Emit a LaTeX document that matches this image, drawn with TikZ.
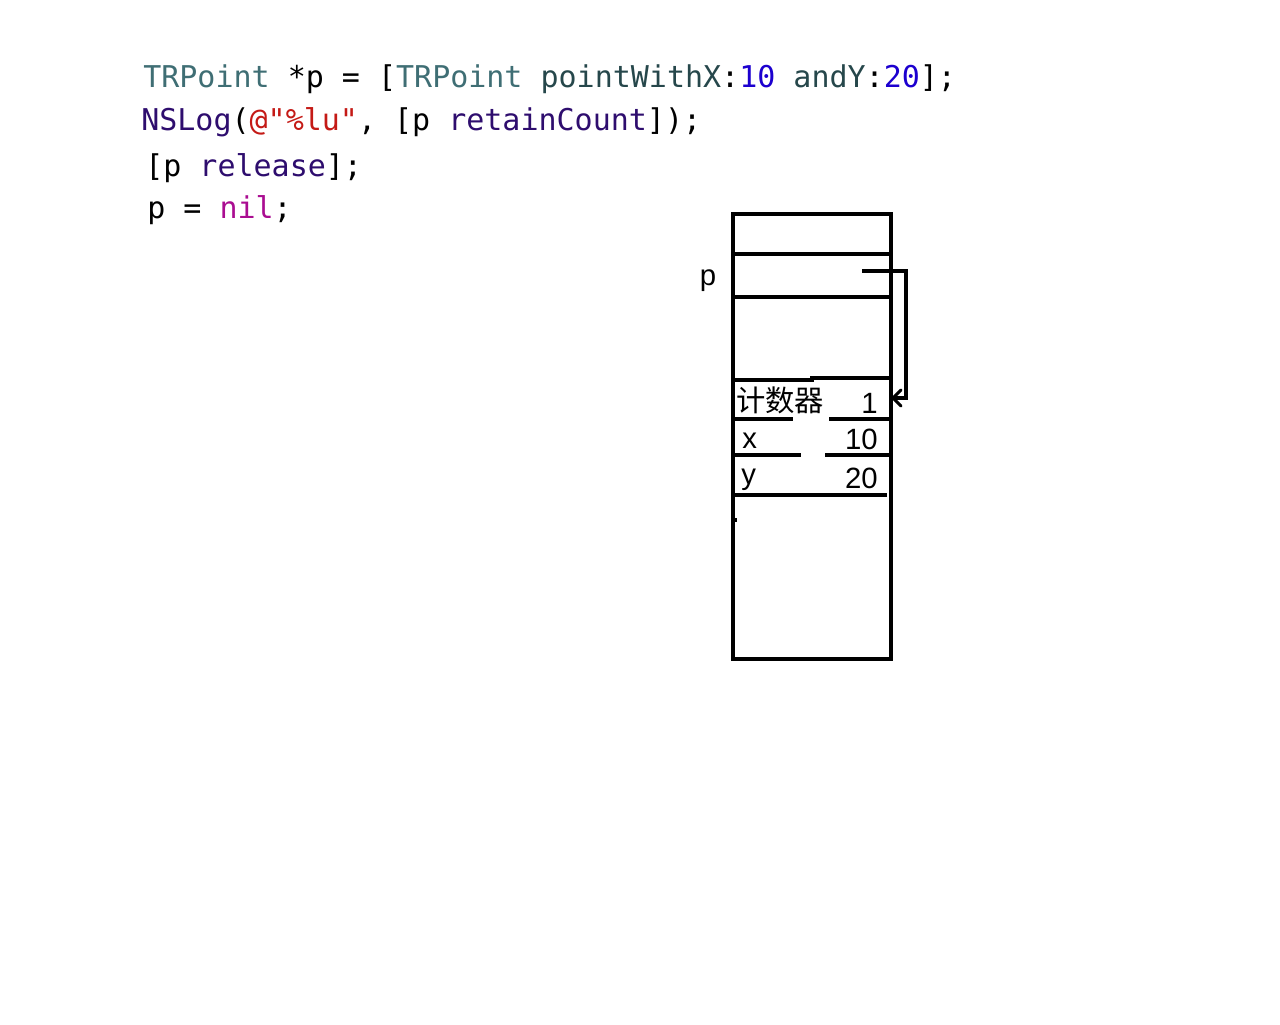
\documentclass[tikz,border=0pt]{standalone}
\usepackage{fontspec}
\setmainfont{Liberation Sans}
\setmonofont{DejaVu Sans Mono}
\newfontfamily\cjk{Noto Sans CJK SC}
\usetikzlibrary{arrows.meta}

\definecolor{tyname}{RGB}{63,110,116}
\definecolor{msgname}{RGB}{38,71,75}
\definecolor{numval}{RGB}{28,0,207}
\definecolor{funcname}{RGB}{46,13,110}
\definecolor{strval}{RGB}{196,26,22}
\definecolor{kwname}{RGB}{170,13,145}

\tikzset{
  codeline/.style={anchor=base west, inner sep=0pt, font=\ttfamily\fontsize{22.5}{26}\selectfont},
  cell/.style={line width=2.6pt},
  cellname/.style={inner sep=0pt, font=\fontsize{22}{26}\selectfont},
  ptrline/.style={draw, line width=2.3pt}
}

\begin{document}
\begin{tikzpicture}[x=0.75pt, y=-0.75pt]
            \useasboundingbox (0,0) rectangle (1280,1024);
            % code
            \node [codeline] (code1) at (143,87) {\textcolor{tyname}{TRPoint} *p = [\textcolor{tyname}{TRPoint} \textcolor{msgname}{pointWithX}:\textcolor{numval}{10} \textcolor{msgname}{andY}:\textcolor{numval}{20}];};
            \node [codeline] (code2) at (141,130) {\textcolor{funcname}{NSLog}(\textcolor{strval}{@"\%lu"}, [p \textcolor{funcname}{retainCount}]);};
            \node [codeline] (code3) at (145,176) {[p \textcolor{funcname}{release}];};
            \node [codeline] (code4) at (147,218) {p = \textcolor{kwname}{nil};};
            % memory
            \draw [cell] (733,214) rectangle (891,659);
            \draw [cell] (733,254) -- (891,254);
            \draw [cell] (733,297) -- (891,297);
            \draw [cell] (733,380) -- (812,380) -- (812,378) -- (891,378);
            \draw [cell] (733,419) -- (793,419);
            \draw [cell] (829,419) -- (891,419);
            \draw [cell] (733,455) -- (801,455);
            \draw [cell] (825,455) -- (891,455);
            \draw [cell] (733,495) -- (887,495);
            \fill (735,518) rectangle (737,522);
            % labels
            \node [cellname, anchor=base] (pname) at (708,285) {p};
            \node [cellname, anchor=base west] (cntname) at (736,411) {\cjk 计数器};
            \node [cellname, anchor=base east] (cntval) at (878,413) {1};
            \node [cellname, anchor=base west] (xname) at (742,448) {x};
            \node [cellname, anchor=base east] (xval) at (878,449) {10};
            \node [cellname, anchor=base west] (yname) at (741,484) {y};
            \node [cellname, anchor=base east] (yval) at (878,488) {20};
            % pointer
            \coordinate (pstart) at (862,271);
            \coordinate (pend) at (893,398);
            \path [ptrline] (pstart) -- (906,271) -- (906,398) -- (pend);
            \path [ptrline, line cap=round, line join=round] (901,390) -- (pend) -- (901,406);
\end{tikzpicture}
\end{document}
